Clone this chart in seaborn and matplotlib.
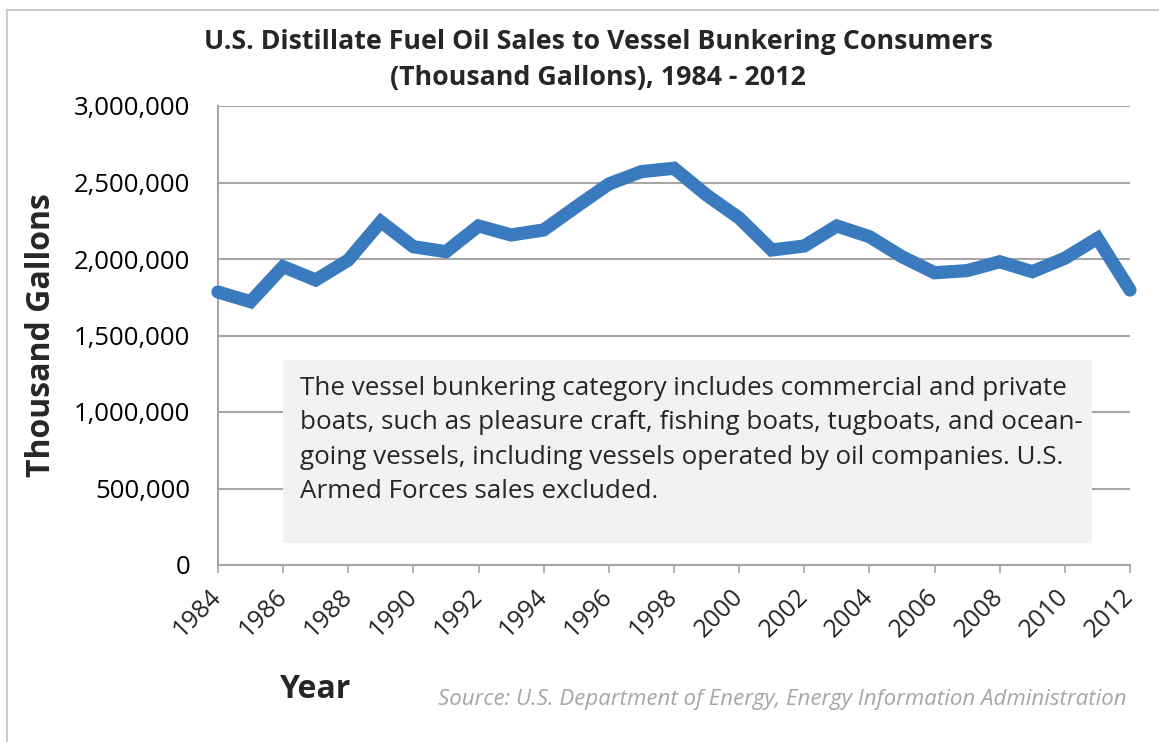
import matplotlib
matplotlib.use("Agg")
import matplotlib.pyplot as plt
from matplotlib.patches import Rectangle
from matplotlib.lines import Line2D
from matplotlib.ticker import FuncFormatter
import seaborn as sns
import pandas as pd

# datele (mii de galoane)
years = list(range(1984, 2013))
sales = [1784000, 1721000, 1950000, 1863000, 1993000, 2244000, 2080000, 2048000,
         2216000, 2157000, 2190000, 2342000, 2490000, 2571000, 2593000, 2418000,
         2268000, 2059000, 2085000, 2216000, 2146000, 2015000, 1910000, 1924000,
         1982000, 1917000, 2005000, 2135000, 1797000]
tick_years = list(range(1984, 2013, 2))
y_ticks = [0, 500000, 1000000, 1500000, 2000000, 2500000, 3000000]

title = "U.S. Distillate Fuel Oil Sales to Vessel Bunkering Consumers\n(Thousand Gallons), 1984 - 2012"
note = ("The vessel bunkering category includes commercial and private\n"
        "boats, such as pleasure craft, fishing boats, tugboats, and ocean-\n"
        "going vessels, including vessels operated by oil companies. U.S.\n"
        "Armed Forces sales excluded.")
source = "Source: U.S. Department of Energy, Energy Information Administration"

df = pd.DataFrame({"Year": years, "Sales": sales})

sns.set_style("white")
plt.rcParams["font.family"] = ["Open Sans", "DejaVu Sans"]

W, H = 1159, 742
fig = plt.figure(figsize=(W / 100, H / 100), dpi=100)
ax = fig.add_axes([218 / W, 1 - 565 / H, (1130 - 218) / W, (565 - 106) / H])

sns.lineplot(data=df, x="Year", y="Sales", ax=ax, color="#3A7ABF",
             linewidth=9.5, solid_joinstyle="miter", clip_on=False, zorder=3)

ax.set_xlim(1984, 2012)
ax.set_ylim(0, 3000000)
ax.set_xticks(tick_years)
ax.set_xticklabels([str(y) for y in tick_years], rotation=45, ha="right",
                   va="center", rotation_mode="anchor", fontsize=18)
ax.set_yticks(y_ticks)
ax.yaxis.set_major_formatter(FuncFormatter(lambda v, p: f"{int(v):,}"))
ax.tick_params(axis="y", labelsize=18.5, length=0, pad=20, colors="black")
ax.tick_params(axis="x", length=6, width=1.2, color="#A6A6A6", pad=14, direction="out",
               bottom=True)
ax.grid(axis="y", color="#A6A6A6", linewidth=1.5)
ax.grid(axis="x", visible=False)
for side in ["top", "right"]:
    ax.spines[side].set_visible(False)
for side in ["left", "bottom"]:
    ax.spines[side].set_color("#A6A6A6")
    ax.spines[side].set_linewidth(1.5)
ax.set_xlabel("")
ax.set_ylabel("")

# titlu si etichete
fig.text(598 / W, 1 - 60 / H, title, ha="center", va="center", fontsize=19.3,
         fontweight="bold", linespacing=1.5)
fig.text(42 / W, 1 - 335 / H, "Thousand Gallons", rotation=90, ha="center",
         va="center", fontsize=23, fontweight="bold")
fig.text(316 / W, 1 - 690 / H, "Year", ha="center", va="center", fontsize=23,
         fontweight="bold")
fig.text(1127 / W, 1 - 700 / H, source, ha="right", va="center", fontsize=16,
         style="italic", color="#A6A6A6")

# caseta cu nota
fig.patches.append(Rectangle((283 / W, 1 - 543 / H), (1092 - 283) / W, (543 - 360) / H,
                             transform=fig.transFigure, facecolor="#F2F2F2",
                             edgecolor="none", zorder=4))
fig.text(300 / W, 1 - 376 / H, note, ha="left", va="top", fontsize=18.7,
         linespacing=1.5, zorder=5)

# chenarul exterior
fig.lines.append(Line2D([7 / W, 7 / W], [0, 1 - 10 / H], transform=fig.transFigure,
                        color="#CCCCCC", linewidth=1.5))
fig.lines.append(Line2D([7 / W, 1], [1 - 10 / H, 1 - 10 / H], transform=fig.transFigure,
                        color="#CCCCCC", linewidth=1.5))

fig.savefig("out.png", dpi=100)
